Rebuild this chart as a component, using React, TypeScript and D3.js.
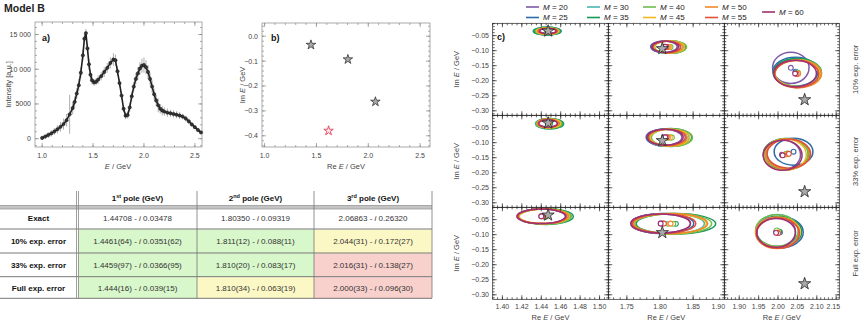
import React from 'react';
import * as d3 from 'd3';

const FONT = 'Liberation Sans, Arial, Helvetica, sans-serif';

// ---- panel a: spectrum ----
const energies = [1.0, 1.03, 1.06, 1.09, 1.12, 1.15, 1.18, 1.21, 1.24, 1.27, 1.3, 1.32, 1.34, 1.36, 1.38, 1.4, 1.415, 1.43, 1.445, 1.46, 1.475, 1.49, 1.51, 1.53, 1.55, 1.58, 1.61, 1.64, 1.67, 1.7, 1.72, 1.74, 1.76, 1.78, 1.8, 1.82, 1.84, 1.86, 1.88, 1.9, 1.92, 1.94, 1.96, 1.98, 2.0, 2.02, 2.04, 2.06, 2.08, 2.1, 2.12, 2.14, 2.16, 2.18, 2.2, 2.23, 2.26, 2.29, 2.32, 2.35, 2.38, 2.41, 2.44, 2.47, 2.5, 2.53, 2.56];
const intensities = [100, 300, 520, 760, 1030, 1350, 1700, 2100, 2650, 3500, 4400, 5300, 6500, 7700, 9500, 12000, 14400, 15200, 13000, 10700, 9200, 8400, 8100, 8200, 8500, 9000, 9600, 10200, 10900, 11400, 11300, 9700, 8000, 6200, 4300, 3300, 3400, 4500, 6100, 7500, 8600, 9400, 10100, 10500, 10600, 10300, 9600, 8600, 7500, 6400, 5500, 4800, 4300, 4050, 3900, 3750, 3650, 3550, 3450, 3330, 3180, 2900, 2500, 2050, 1650, 1250, 900];
const intensityErr = [300, 350, 400, 450, 500, 600, 700, 800, 900, 2800, 900, 800, 800, 900, 800, 800, 700, 600, 700, 800, 700, 600, 500, 500, 600, 600, 700, 700, 800, 900, 800, 700, 600, 600, 500, 500, 500, 600, 700, 700, 800, 900, 900, 1000, 1100, 1000, 1000, 900, 900, 800, 800, 1000, 700, 700, 600, 600, 500, 500, 500, 500, 400, 400, 400, 300, 300, 300, 300];
const aXTicks = [1.0, 1.5, 2.0, 2.5];
const aYTicks = [0, 5000, 10000, 15000];
const aYTickLabels = ['0', '5000', '10 000', '15 000'];

// ---- panel b: poles ----
const poleRe = [1.44708, 1.8035, 2.06863];
const poleIm = [-0.03478, -0.09319, -0.2632];
const redRe = [1.617];
const redIm = [-0.38];
const bXTicks = [1.0, 1.5, 2.0, 2.5];
const bYTicks = [0, -0.1, -0.2, -0.3, -0.4];

// ---- table ----
const rowLabels = ['Exact', '10% exp. error', '33% exp. error', 'Full exp. error'];
const poleHeads = [['1', 'st'], ['2', 'nd'], ['3', 'rd']];
const cellRe = [
  ['1.44708', '1.80350', '2.06863'],
  ['1.4461(64)', '1.811(12)', '2.044(31)'],
  ['1.4459(97)', '1.810(20)', '2.016(31)'],
  ['1.444(16)', '1.810(34)', '2.000(33)'],
];
const cellIm = [
  ['0.03478', '0.09319', '0.26320'],
  ['0.0351(62)', '0.088(11)', '0.172(27)'],
  ['0.0366(95)', '0.083(17)', '0.138(27)'],
  ['0.039(15)', '0.063(19)', '0.096(30)'],
];
const cellColor = [
  ['#ffffff', '#ffffff', '#ffffff'],
  ['#d8f7cb', '#d8f7cb', '#fcf8c6'],
  ['#d8f7cb', '#d8f7cb', '#f8d0cc'],
  ['#d8f7cb', '#fcf8c6', '#f8d0cc'],
];

// ---- panel c: ellipses [re, im, semiRe, semiIm] for M = 20..60 ----
const mValues = [20, 25, 30, 35, 40, 45, 50, 55, 60];
const mColors = ['#7d5aa8', '#2d6aa8', '#4ab6b0', '#1a985a', '#6fbc4f', '#f0b81c', '#ef8a2a', '#e2503a', '#a0306f'];
const ell10p1 = [[1.4465, -0.0345, 0.0125, 0.011], [1.4462, -0.035, 0.014, 0.0125], [1.446, -0.035, 0.0145, 0.013], [1.4462, -0.0352, 0.014, 0.0128], [1.4463, -0.035, 0.0125, 0.0115], [1.4465, -0.0348, 0.0115, 0.0105], [1.4466, -0.0348, 0.0105, 0.0095], [1.4467, -0.0347, 0.0095, 0.0088], [1.4468, -0.0346, 0.0085, 0.008]];
const ell10p2 = [[1.806, -0.087, 0.02, 0.019], [1.809, -0.088, 0.022, 0.02], [1.812, -0.088, 0.023, 0.021], [1.815, -0.088, 0.024, 0.021], [1.816, -0.088, 0.024, 0.021], [1.814, -0.088, 0.023, 0.02], [1.812, -0.088, 0.022, 0.02], [1.81, -0.088, 0.021, 0.019], [1.808, -0.087, 0.02, 0.019]];
const ell10p3 = [[2.033, -0.157, 0.047, 0.052], [2.045, -0.17, 0.058, 0.048], [2.048, -0.172, 0.06, 0.046], [2.05, -0.173, 0.062, 0.047], [2.052, -0.174, 0.06, 0.045], [2.05, -0.176, 0.058, 0.044], [2.052, -0.177, 0.06, 0.046], [2.048, -0.178, 0.057, 0.045], [2.044, -0.176, 0.055, 0.044]];
const ell33p1 = [[1.447, -0.036, 0.012, 0.015], [1.448, -0.036, 0.0135, 0.0165], [1.448, -0.037, 0.014, 0.017], [1.449, -0.037, 0.014, 0.017], [1.448, -0.037, 0.013, 0.016], [1.448, -0.036, 0.012, 0.015], [1.447, -0.036, 0.011, 0.014], [1.447, -0.036, 0.01, 0.013], [1.447, -0.036, 0.0095, 0.012]];
const ell33p2 = [[1.806, -0.082, 0.027, 0.027], [1.81, -0.083, 0.03, 0.029], [1.813, -0.083, 0.031, 0.029], [1.816, -0.083, 0.032, 0.03], [1.818, -0.083, 0.031, 0.029], [1.815, -0.083, 0.03, 0.028], [1.812, -0.083, 0.029, 0.028], [1.81, -0.082, 0.028, 0.027], [1.808, -0.082, 0.027, 0.027]];
const ell33p3 = [[2.01, -0.14, 0.048, 0.05], [2.04, -0.13, 0.05, 0.045], [2.025, -0.136, 0.055, 0.05], [2.02, -0.138, 0.058, 0.052], [2.022, -0.137, 0.056, 0.05], [2.018, -0.14, 0.055, 0.052], [2.025, -0.138, 0.057, 0.05], [2.028, -0.137, 0.056, 0.048], [2.012, -0.142, 0.05, 0.05]];
const ellFullp1 = [[1.44, -0.039, 0.025, 0.024], [1.442, -0.039, 0.026, 0.025], [1.443, -0.039, 0.027, 0.025], [1.445, -0.04, 0.028, 0.026], [1.444, -0.04, 0.027, 0.025], [1.443, -0.039, 0.026, 0.024], [1.442, -0.039, 0.026, 0.024], [1.441, -0.039, 0.025, 0.024], [1.44, -0.039, 0.025, 0.024]];
const ellFullp2 = [[1.801, -0.063, 0.045, 0.032], [1.804, -0.063, 0.047, 0.033], [1.812, -0.064, 0.055, 0.034], [1.824, -0.064, 0.06, 0.034], [1.82, -0.064, 0.058, 0.034], [1.815, -0.064, 0.055, 0.033], [1.816, -0.063, 0.056, 0.033], [1.806, -0.063, 0.048, 0.032], [1.801, -0.063, 0.045, 0.032]];
const ellFullp3 = [[1.995, -0.09, 0.05, 0.05], [2.005, -0.092, 0.06, 0.052], [1.998, -0.088, 0.055, 0.055], [2.003, -0.09, 0.058, 0.05], [1.997, -0.086, 0.055, 0.052], [2.0, -0.092, 0.057, 0.05], [1.998, -0.094, 0.056, 0.052], [2.0, -0.095, 0.055, 0.05], [1.995, -0.094, 0.05, 0.048]];
const errorLabels = ['10% exp. error', '33% exp. error', 'Full exp. error'];
const cXTicks = [
  [1.4, 1.42, 1.44, 1.46, 1.48, 1.5],
  [1.75, 1.8, 1.85, 1.9],
  [1.9, 1.95, 2.0, 2.05, 2.1, 2.15],
];
const cYTicks = [-0.05, -0.1, -0.15, -0.2, -0.25, -0.3];

const rng = (a: number, b: number, s: number) => {
  const out: number[] = [];
  for (let k = Math.ceil(a / s - 1e-6); k * s <= b + 1e-9; k++) out.push(+(k * s).toFixed(6));
  return out;
};

function FrameTicks({ xs, ys, xMaj, xMin, yMaj, yMin, color }: any) {
  const [x0, x1] = xs.range();
  const [y1, y0] = ys.range();
  const segs: number[][] = [];
  const addX = (vals: number[], len: number) => vals.forEach((v) => {
    const x = xs(v);
    if (x < x0 - 0.2 || x > x1 + 0.2) return;
    segs.push([x, y1, x, y1 - len], [x, y0, x, y0 + len]);
  });
  const addY = (vals: number[], len: number) => vals.forEach((v) => {
    const y = ys(v);
    if (y < y0 - 0.2 || y > y1 + 0.2) return;
    segs.push([x0, y, x0 + len, y], [x1, y, x1 - len, y]);
  });
  addX(xMin, 2); addX(xMaj, 4); addY(yMin, 2); addY(yMaj, 4);
  return (
    <g stroke={color} strokeWidth={0.7}>
      <rect x={x0} y={y0} width={x1 - x0} height={y1 - y0} fill="none" />
      {segs.map((s, i) => <line key={i} x1={s[0]} y1={s[1]} x2={s[2]} y2={s[3]} />)}
    </g>
  );
}

export default function App() {
  // panel a
  const xA = d3.scaleLinear().domain([0.93, 2.57]).range([35, 202]);
  const yA = d3.scaleLinear().domain([-1200, 16800]).range([147, 22]);
  const spec = d3.line<number>().x((_, i) => xA(energies[i])).y((d) => yA(d))(intensities) || '';

  // panel b
  const xB = d3.scaleLinear().domain([0.975, 2.595]).range([262, 430]);
  const yB = d3.scaleLinear().domain([-0.445, 0.053]).range([147, 23]);
  const starB = d3.symbol().type(d3.symbolStar).size(28)() || '';
  const starC = d3.symbol().type(d3.symbolStar).size(46)() || '';

  // panel c
  const colRanges = [[492.7, 608.3], [608.3, 724.3], [724.3, 839.3]];
  const colDomains = [[1.39, 1.509], [1.722, 1.897], [1.8615, 2.158]];
  const colMinor = [0.005, 0.01, 0.01];
  const rowTops = [23.3, 115.3, 207.3];
  const rowH = 92;
  const ellipses = [[ell10p1, ell10p2, ell10p3], [ell33p1, ell33p2, ell33p3], [ellFullp1, ellFullp2, ellFullp3]];

  // table geometry
  const colX = [0, 78, 197, 314, 432];
  const rowY = [191, 207.5, 229, 253, 276.7, 298.3];

  const legendPos = [[526, 7], [526, 17.5], [587, 7], [587, 17.5], [643, 7], [643, 17.5], [705, 7], [705, 17.5], [762, 12]];

  return (
    <div style={{ position: 'absolute', left: 0, top: 0 }}>
      <svg width={868} height={326} fontFamily={FONT} style={{ display: 'block', background: '#fff' }}>
        <text x={4} y={12} fontSize={10.5} fontWeight="bold" fill="#222">Model B</text>

        {/* ---- panel a ---- */}
        <FrameTicks xs={xA} ys={yA} xMaj={aXTicks} xMin={rng(0.93, 2.57, 0.1)} yMaj={aYTicks} yMin={rng(-1000, 16800, 1000)} color="#888" />
        <g stroke="#9a9a9a" strokeWidth={0.8}>
          {energies.map((e, i) => (
            <line key={i} x1={xA(e)} x2={xA(e)} y1={yA(intensities[i] - intensityErr[i])} y2={yA(intensities[i] + intensityErr[i])} />
          ))}
        </g>
        <path d={spec} fill="none" stroke="#222" strokeWidth={1.6} />
        {energies.map((e, i) => (
          <circle key={i} cx={xA(e)} cy={yA(intensities[i])} r={1.7} fill="#333" stroke="#111" strokeWidth={0.4} />
        ))}
        <text x={42} y={41} fontSize={9} fontWeight="bold" fill="#111">a)</text>
        <g fontSize={7} fill="#444">
          {aYTicks.map((v, i) => <text key={v} x={31} y={yA(v) + 2.5} textAnchor="end">{aYTickLabels[i]}</text>)}
          {aXTicks.map((v) => <text key={v} x={xA(v)} y={158} textAnchor="middle">{v.toFixed(1)}</text>)}
        </g>
        <text transform={`translate(11,${(22 + 147) / 2}) rotate(-90)`} textAnchor="middle" fontSize={7.5} fill="#444">Intensity [a.u.]</text>
        <text x={118} y={169} textAnchor="middle" fontSize={7.5} fill="#444"><tspan fontStyle="italic">E</tspan> / GeV</text>

        {/* ---- panel b ---- */}
        <FrameTicks xs={xB} ys={yB} xMaj={bXTicks} xMin={rng(0.98, 2.59, 0.1)} yMaj={bYTicks} yMin={rng(-0.44, 0.05, 0.02)} color="#888" />
        {poleRe.map((re, i) => (
          <path key={i} d={starB} transform={`translate(${xB(re)},${yB(poleIm[i])})`} fill="#aaa" stroke="#222" strokeWidth={0.7} />
        ))}
        {redRe.map((re, i) => (
          <path key={i} d={starB} transform={`translate(${xB(re)},${yB(redIm[i])})`} fill="#fbe3e6" stroke="#e0304a" strokeWidth={0.8} />
        ))}
        <text x={271} y={41} fontSize={9} fontWeight="bold" fill="#111">b)</text>
        <g fontSize={7} fill="#444">
          {bYTicks.map((v) => <text key={v} x={258} y={yB(v) + 2.5} textAnchor="end">{v === 0 ? '0.0' : '\u2212' + Math.abs(v).toFixed(1)}</text>)}
          {bXTicks.map((v) => <text key={v} x={xB(v)} y={158} textAnchor="middle">{v.toFixed(1)}</text>)}
        </g>
        <text transform={`translate(245,${(23 + 147) / 2}) rotate(-90)`} textAnchor="middle" fontSize={7.5} fill="#444">Im <tspan fontStyle="italic">E</tspan> / GeV</text>
        <text x={346} y={169} textAnchor="middle" fontSize={7.5} fill="#444">Re <tspan fontStyle="italic">E</tspan> / GeV</text>

        {/* ---- table ---- */}
        {cellColor.map((row, r) => row.map((c, k) => (
          <rect key={`${r}-${k}`} x={colX[k + 1]} y={rowY[r + 1] + 0.5} width={colX[k + 2] - colX[k + 1]} height={rowY[r + 2] - rowY[r + 1] - 0.5} fill={c} />
        )))}
        <rect x={0} y={205.5} width={432} height={3.5} fill="#c4c4c4" />
        <g stroke="#555" strokeWidth={0.8}>
          <line x1={0} x2={432} y1={205.5} y2={205.5} stroke="#999" />
          <line x1={0} x2={432} y1={209} y2={209} stroke="#999" />
          {rowY.slice(2).map((y) => <line key={y} x1={0} x2={432} y1={y} y2={y} />)}
          <line x1={76.5} x2={76.5} y1={rowY[0]} y2={rowY[5]} stroke="#888" />
          <line x1={78.5} x2={78.5} y1={rowY[0]} y2={rowY[5]} stroke="#888" />
          {colX.slice(2).map((x) => <line key={x} x1={x} x2={x} y1={rowY[0]} y2={rowY[5]} stroke="#777" />)}
        </g>
        <g fontSize={8} fontWeight="bold" fill="#111" textAnchor="middle">
          {poleHeads.map((h, k) => (
            <text key={k} x={(colX[k + 1] + colX[k + 2]) / 2} y={201}>
              {h[0]}<tspan fontSize={5.5} dy={-3}>{h[1]}</tspan><tspan dy={3}> pole (GeV)</tspan>
            </text>
          ))}
          {rowLabels.map((l, r) => (
            <text key={l} x={38.5} y={(rowY[r + 1] + rowY[r + 2]) / 2 + 3}>{l}</text>
          ))}
        </g>
        <g fontSize={8} fill="#333" textAnchor="middle">
          {cellRe.map((row, r) => row.map((re, k) => (
            <text key={`${r}-${k}`} x={(colX[k + 1] + colX[k + 2]) / 2} y={(rowY[r + 1] + rowY[r + 2]) / 2 + 3}>
              {re} - <tspan fontStyle="italic">i</tspan> {cellIm[r][k]}
            </text>
          )))}
        </g>

        {/* ---- panel c ---- */}
        {legendPos.map((p, i) => (
          <g key={i}>
            <line x1={p[0]} x2={p[0] + 13} y1={p[1]} y2={p[1]} stroke={mColors[i]} strokeWidth={1.6} />
            <text x={p[0] + 17} y={p[1] + 2.8} fontSize={8} fill="#222"><tspan fontStyle="italic">M</tspan> = {mValues[i]}</text>
          </g>
        ))}
        {rowTops.map((top, r) => colRanges.map((cr, c) => {
          const xs = d3.scaleLinear().domain(colDomains[c]).range(cr);
          const ys = d3.scaleLinear().domain([-0.315, -0.009]).range([top + rowH, top]);
          const set = ellipses[r][c];
          const clipId = `clip-${r}-${c}`;
          return (
            <g key={`${r}-${c}`}>
              <clipPath id={clipId}><rect x={cr[0]} y={top} width={cr[1] - cr[0]} height={rowH} /></clipPath>
              <g clipPath={`url(#${clipId})`} fill="none">
                {set.map((e, m) => (
                  <ellipse key={m} cx={xs(e[0])} cy={ys(e[1])} rx={xs(e[0] + e[2]) - xs(e[0])} ry={ys(e[1]) - ys(e[1] + e[3])} stroke={mColors[m]} strokeWidth={1.5} />
                ))}
                {set.map((e, m) => (
                  <circle key={'c' + m} cx={xs(e[0])} cy={ys(e[1])} r={2.4} fill="#fff" stroke={mColors[m]} strokeWidth={1.1} />
                ))}
                <path d={starC} transform={`translate(${xs(poleRe[c])},${ys(poleIm[c])})`} fill="#aaa" stroke="#222" strokeWidth={0.8} />
              </g>
              <FrameTicks xs={xs} ys={ys} xMaj={cXTicks[c]} xMin={rng(colDomains[c][0], colDomains[c][1], colMinor[c])} yMaj={cYTicks} yMin={rng(-0.31, -0.01, 0.01)} color="#222" />
              {c === 0 && (
                <g fontSize={7} fill="#444" textAnchor="end">
                  {cYTicks.map((v) => <text key={v} x={489} y={ys(v) + 2.5}>{'\u2212' + Math.abs(v).toFixed(2)}</text>)}
                </g>
              )}
              {r === 2 && (
                <g fontSize={7} fill="#444" textAnchor="middle">
                  {cXTicks[c].map((v) => <text key={v} x={Math.min(xs(v), cr[1] - 6)} y={309}>{v.toFixed(2)}</text>)}
                </g>
              )}
            </g>
          );
        }))}
        <text x={497} y={40} fontSize={9} fontWeight="bold" fill="#111">c)</text>
        {rowTops.map((top, r) => (
          <g key={r}>
            <text transform={`translate(459,${top + rowH / 2}) rotate(-90)`} textAnchor="middle" fontSize={7.5} fill="#444">Im <tspan fontStyle="italic">E</tspan> / GeV</text>
            <text transform={`translate(858,${top + rowH / 2}) rotate(-90)`} textAnchor="middle" fontSize={7.5} fill="#444">{errorLabels[r]}</text>
          </g>
        ))}
        {colRanges.map((cr, c) => (
          <text key={c} x={(cr[0] + cr[1]) / 2} y={320} textAnchor="middle" fontSize={7.5} fill="#444">Re <tspan fontStyle="italic">E</tspan> / GeV</text>
        ))}
      </svg>
    </div>
  );
}
